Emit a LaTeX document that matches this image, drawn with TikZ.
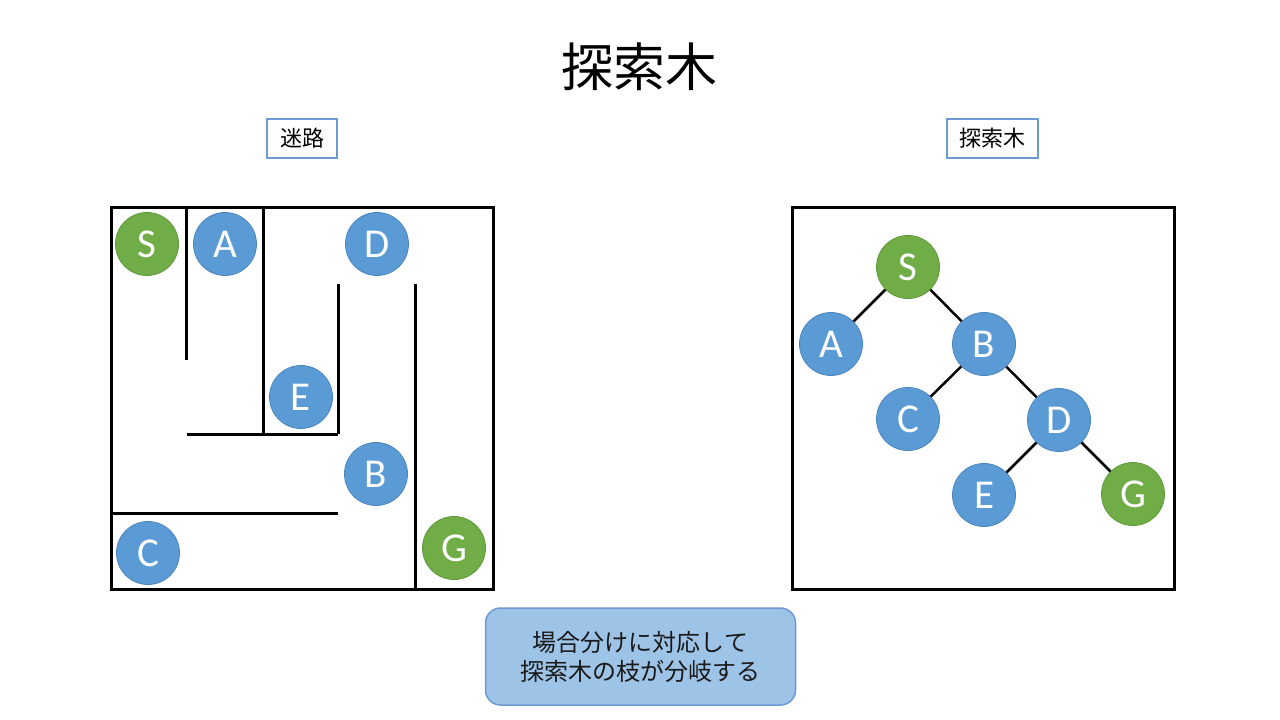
\documentclass[tikz,border=0pt]{standalone}
\usepackage{fontspec}
\setmainfont{Carlito}
\newfontfamily\jp{Noto Sans CJK JP}
\definecolor{nblue}{HTML}{5B9BD5}
\definecolor{nblueb}{HTML}{4A85BC}
\definecolor{ngreen}{HTML}{70AD47}
\definecolor{ngreenb}{HTML}{5E9838}
\definecolor{lblue}{HTML}{9DC3E6}
\definecolor{lblueb}{HTML}{6C9BD2}
\definecolor{txt}{HTML}{1A1A1A}
\begin{document}
\begin{tikzpicture}[x=1pt,y=-1pt,
  bnode/.style={circle,fill=nblue,draw=nblueb,line width=0.8pt,minimum size=63pt,inner sep=0pt,text=white,font=\fontsize{41}{44}\selectfont},
  gnode/.style={bnode,fill=ngreen,draw=ngreenb},
  wall/.style={line width=3pt},
  frame/.style={draw,line width=3pt},
  lbl/.style={draw=lblueb,line width=1.5pt,inner sep=0pt,font=\jp\fontsize{22}{24}\selectfont},
  edge/.style={line width=2.5pt}]
\useasboundingbox (0,0) rectangle (1280,720);
\fill[white] (0,0) rectangle (1280,720);
% title
\node[font=\jp\fontsize{52}{56}\selectfont] (title) at (639,67) {探索木};
% labels
\node[lbl,minimum width=70pt,minimum height=39pt] (lmaze) at (302,138.5) {迷路};
\node[lbl,minimum width=91pt,minimum height=39pt] (ltree) at (992.5,138.5) {探索木};
% maze frame
\draw[frame] (111,207) rectangle (493,589);
% walls
\coordinate (w1a) at (186,207); \coordinate (w1b) at (186,360);
\coordinate (w2a) at (263,207); \coordinate (w2b) at (263,434);
\coordinate (w3a) at (187,434); \coordinate (w3b) at (338,434);
\coordinate (w4a) at (338,284); \coordinate (w4b) at (338,434);
\coordinate (w5a) at (415,284); \coordinate (w5b) at (415,589);
\coordinate (w6a) at (111,513); \coordinate (w6b) at (338,513);
\draw[wall] (w1a) -- (w1b);
\draw[wall] (w2a) -- (w2b);
\draw[wall] (w3a) -- (w3b);
\draw[wall] (w4a) -- (w4b);
\draw[wall] (w5a) -- (w5b);
\draw[wall] (w6a) -- (w6b);
% maze nodes
\node[gnode] (mS) at (147,244) {S};
\node[bnode] (mA) at (225,244) {A};
\node[bnode] (mD) at (377,244) {D};
\node[bnode] (mE) at (301,397) {E};
\node[bnode] (mB) at (376,474) {B};
\node[bnode] (mC) at (148,553) {C};
\node[gnode] (mG) at (454,548) {G};
% tree frame
\draw[frame] (792,207) rectangle (1174,589);
\node[gnode] (tS) at (908,267) {S};
\node[bnode] (tA) at (831,344) {A};
\node[bnode] (tB) at (984,344) {B};
\node[bnode] (tC) at (908,419) {C};
\node[bnode] (tD) at (1059,420) {D};
\node[bnode] (tE) at (984,495) {E};
\node[gnode] (tG) at (1133,494) {G};
\draw[edge] (tS) -- (tA);
\draw[edge] (tS) -- (tB);
\draw[edge] (tB) -- (tC);
\draw[edge] (tB) -- (tD);
\draw[edge] (tD) -- (tE);
\draw[edge] (tD) -- (tG);
% note box
\node[draw=lblueb,fill=lblue,line width=1.5pt,rounded corners=15pt,minimum width=310pt,minimum height=97pt,align=center,text=txt,font=\jp\fontsize{24}{29}\selectfont] (note) at (640.5,656.5) {場合分けに対応して\\探索木の枝が分岐する};
\end{tikzpicture}
\end{document}
